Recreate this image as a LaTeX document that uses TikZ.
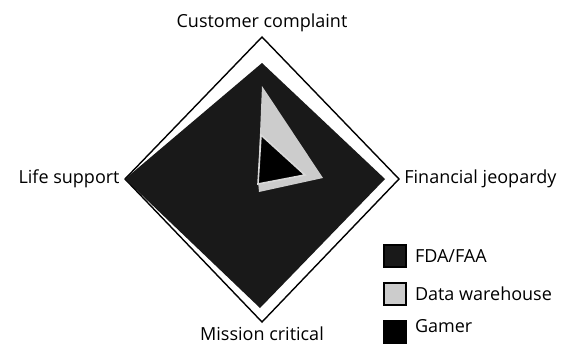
\documentclass[tikz,border=0pt]{standalone}
\usepackage{fontspec}
\setmainfont{Open Sans}
\usetikzlibrary{positioning}
\definecolor{fda}{gray}{0.1}
\definecolor{lager}{gray}{0.8}
\definecolor{rand}{gray}{0.85}
\tikzset{
  rahmen/.style={black,line width=0.7pt,line join=miter},
  achse/.style={font=\fontsize{9}{10}\selectfont,inner sep=1.5pt},
  legbox/.style={draw=black,line width=0.6pt,minimum size=11pt,inner sep=0pt},
  legtext/.style={font=\fontsize{9}{10}\selectfont,inner sep=1pt},
}
\begin{document}
\begin{tikzpicture}[x=0.5pt,y=-0.5pt]
  \useasboundingbox (0,0) rectangle (562,343);
  % Rahmen: vier Achsen als Raute
  \coordinate (oben)   at (262,37);
  \coordinate (rechts) at (399,179);
  \coordinate (unten)  at (262,322);
  \coordinate (links)  at (125,179);
  \draw[rahmen] (oben)--(rechts)--(unten)--(links)--cycle;
  % Profile
  \fill[fda] (262,63)--(385,179)--(260,308)--(links)--cycle;
  \fill[lager] (262,86)--(323,178)--(259,192)--(258,181)--cycle;
  \filldraw[fill=black,draw=rand,line width=0.8pt] (261,135)--(305,175)--(258,184)--cycle;
  % Achsenbeschriftung
  \node[achse,above=1pt of oben] (kunde) {Customer complaint};
  \node[achse,right=1pt of rechts] (finanz) {Financial jeopardy};
  \node[achse,below=0.5pt of unten] (mission) {Mission critical};
  \node[achse,left=1pt of links] (leben) {Life support};
  % Legende
  \node[legbox,fill=fda] (boxfda) at (395,256) {};
  \node[legbox,fill=lager] (boxlager) at (395,294) {};
  \node[legbox,fill=black] (boxgamer) at (395,332) {};
  \node[legtext,right=3pt of boxfda] (txtfda) {FDA/FAA};
  \node[legtext,right=3pt of boxlager] (txtlager) {Data warehouse};
  \node[legtext,right=3pt of boxgamer,yshift=3pt] (txtgamer) {Gamer};
\end{tikzpicture}
\end{document}
